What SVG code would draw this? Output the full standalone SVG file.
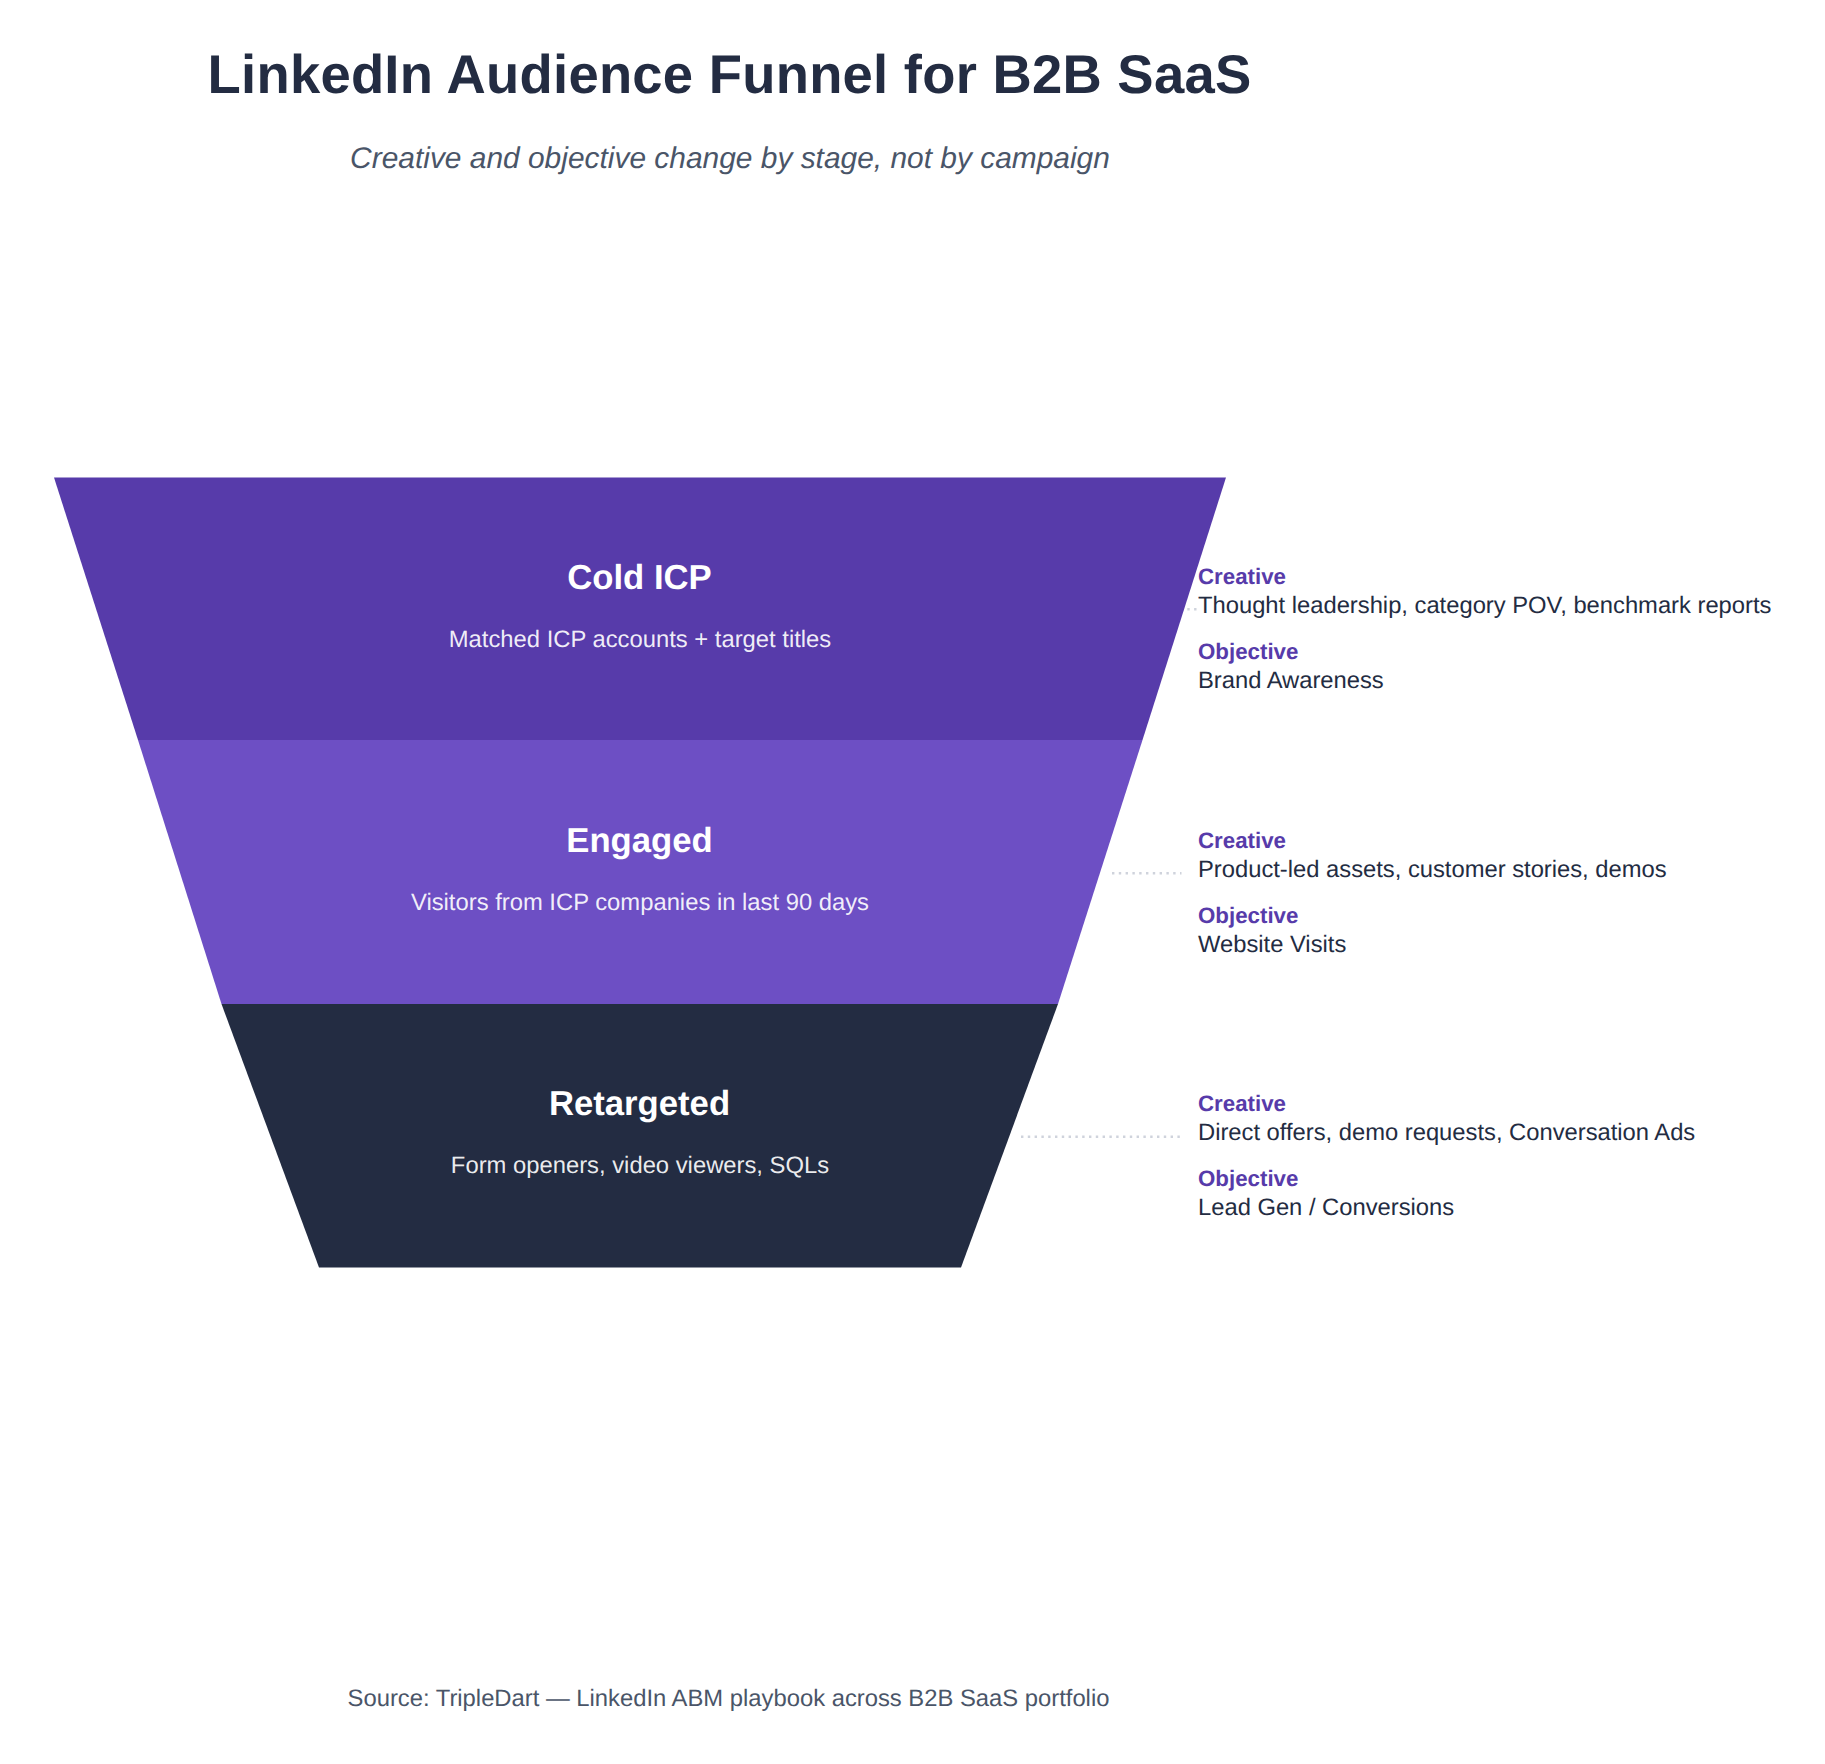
<svg xmlns="http://www.w3.org/2000/svg" width="1825" height="1764" viewBox="0 0 1825 1764">
<style>
text{font-family:"Liberation Sans",Arial,sans-serif;text-rendering:geometricPrecision}
.title{font-size:54.4px;font-weight:700;fill:#232c42;text-anchor:middle;letter-spacing:.25px}
.sub{font-size:29.92px;font-style:italic;fill:#4a5568;text-anchor:middle}
.src{font-size:23.8px;fill:#4a5568;text-anchor:middle}
.name{font-size:34.7px;font-weight:700;fill:#fff;text-anchor:middle}
.desc{font-size:23.8px;fill:#fff;fill-opacity:.92;text-anchor:middle}
.k{font-size:22.3px;font-weight:700;fill:#573baa}
.v{font-size:23.75px;fill:#232c42}
.c{stroke:#cfd3dc;stroke-width:2.4;stroke-dasharray:2.4 4.4;fill:none}
</style>
<rect width="1825" height="1764" fill="#fff"/>
<text class="title" x="729.5" y="93">LinkedIn Audience Funnel for B2B SaaS</text>
<text class="sub" x="730" y="168">Creative and objective change by stage, not by campaign</text>
<g id="connectors">
<line class="c" x1="1180.5" y1="609.3" x2="1196.5" y2="609.3"/>
<line class="c" x1="1112" y1="873.3" x2="1181.5" y2="873.3"/>
<line class="c" x1="1021" y1="1136.7" x2="1181.5" y2="1136.7"/>
</g>
<g id="stage-cold">
<polygon points="54,477.5 1226,477.5 1142.5,740 138,740" fill="#573baa"/>
<text class="name" x="639.5" y="589">Cold ICP</text>
<text class="desc" x="640" y="647">Matched ICP accounts + target titles</text>
</g>
<g id="stage-engaged">
<polygon points="138,740 1142.5,740 1058,1004 221.5,1004" fill="#6d4fc4"/>
<text class="name" x="639.5" y="852">Engaged</text>
<text class="desc" x="640" y="910">Visitors from ICP companies in last 90 days</text>
</g>
<g id="stage-retargeted">
<polygon points="221.5,1004 1058,1004 961,1267.5 319,1267.5" fill="#232c42"/>
<text class="name" x="639.5" y="1115">Retargeted</text>
<text class="desc" x="640" y="1173">Form openers, video viewers, SQLs</text>
</g>
<g id="notes-cold">
<text class="k" x="1198" y="584.3">Creative</text>
<text class="v" x="1198" y="612.7">Thought leadership, category POV, benchmark reports</text>
<text class="k" x="1198" y="659.3">Objective</text>
<text class="v" x="1198" y="687.7">Brand Awareness</text>
</g>
<g id="notes-engaged">
<text class="k" x="1198" y="848.3">Creative</text>
<text class="v" x="1198" y="876.7">Product-led assets, customer stories, demos</text>
<text class="k" x="1198" y="923.3">Objective</text>
<text class="v" x="1198" y="951.7">Website Visits</text>
</g>
<g id="notes-retargeted">
<text class="k" x="1198" y="1111.3">Creative</text>
<text class="v" x="1198" y="1139.7">Direct offers, demo requests, Conversation Ads</text>
<text class="k" x="1198" y="1186.3">Objective</text>
<text class="v" x="1198" y="1214.7">Lead Gen / Conversions</text>
</g>
<text class="src" x="728.5" y="1706">Source: TripleDart — LinkedIn ABM playbook across B2B SaaS portfolio</text>
</svg>
